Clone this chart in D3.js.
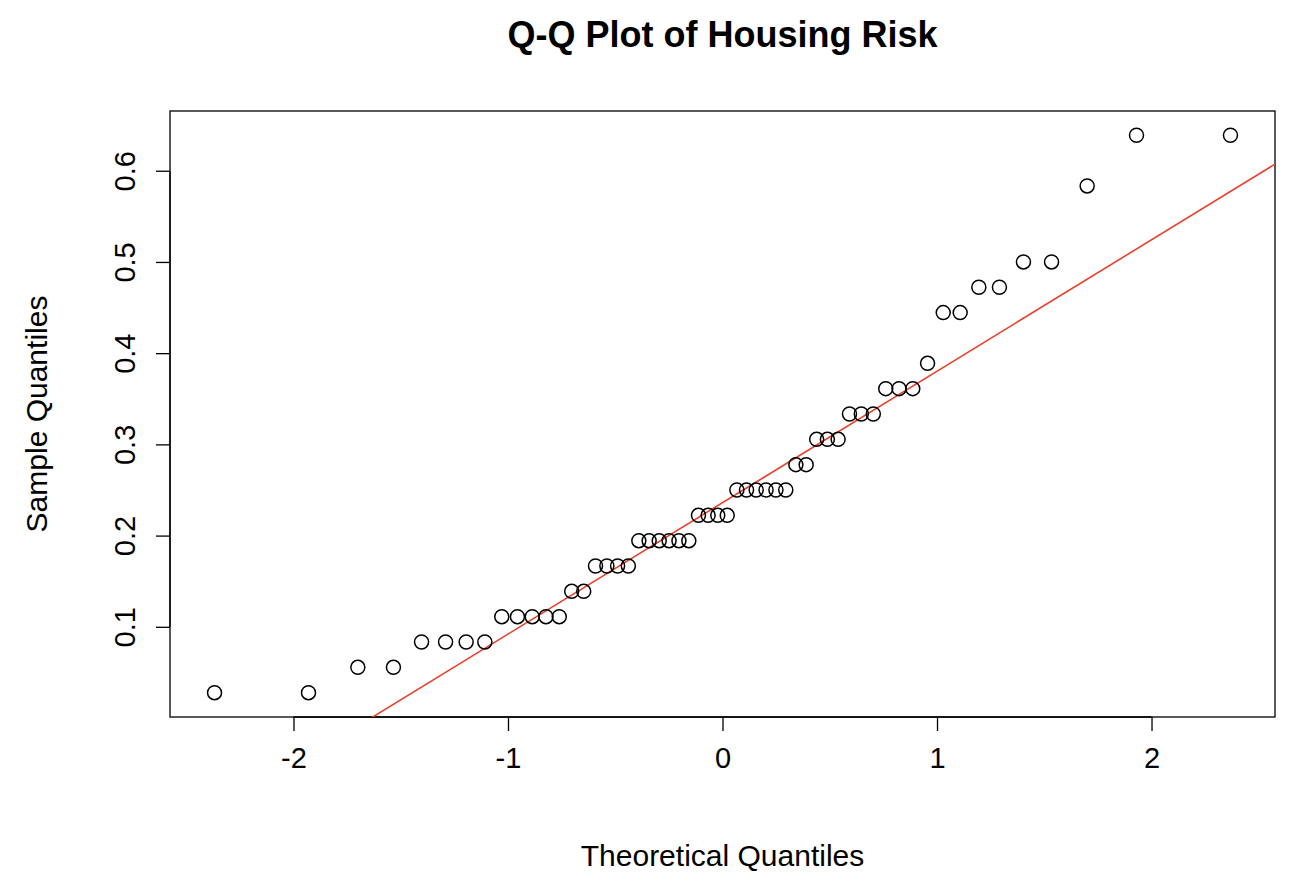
<!DOCTYPE html>
<html><head><meta charset="utf-8">
<script src="https://cdn.jsdelivr.net/npm/d3@7"></script>
<style>body{margin:0;background:#fff}svg{font-family:"Liberation Sans",Arial,sans-serif}</style>
</head><body><svg id="c" width="1292" height="874"></svg>
<script>
// Sample values (sorted), multiples of 1/36
const sampleCounts = [[1,2],[2,2],[3,4],[4,5],[5,2],[6,4],[7,6],[8,4],[9,6],[10,2],[11,3],[12,3],[13,3],[14,1],[16,2],[17,2],[18,2],[21,1],[23,2]];
// Theoretical quantiles (lower half; upper half symmetric)
const theoLower = [-2.368,-1.930,-1.700,-1.534,-1.403,-1.291,-1.195,-1.108,-1.029,-0.956,-0.887,-0.823,-0.761,-0.703,-0.647,-0.592,-0.539,-0.489,-0.439,-0.390,-0.342,-0.295,-0.249,-0.203,-0.157,-0.112,-0.067,-0.022];
const xTicks = [-2,-1,0,1,2];
const yTicks = [0.1,0.2,0.3,0.4,0.5,0.6];
const lineQuartiles = {x:[-0.6745,0.6745], y:[0.1389,0.3333]};

const sample = [];
sampleCounts.forEach(([k,c])=>{for(let i=0;i<c;i++)sample.push(k/36);});
const theo = theoLower.concat(theoLower.slice().reverse().map(v=>-v));
const pts = theo.map((t,i)=>({x:t,y:sample[i]}));

const svg = d3.select("#c");
const L=170,R=1275,T=111,B=717;
const x = d3.scaleLinear().domain([-2.557,2.557]).range([L+4,R-4]);
const y = d3.scaleLinear().domain([0.0033,0.6633]).range([B-2,T+2]);

svg.append("rect").attr("x",L).attr("y",T).attr("width",R-L).attr("height",B-T).attr("fill","none").attr("stroke","#000").attr("stroke-width",1.3);

const xa = svg.append("g").attr("transform",`translate(0,${B})`)
  .call(d3.axisBottom(x).tickValues(xTicks).tickFormat(d=>d).tickSizeOuter(0).tickSize(14).tickPadding(12));
xa.select(".domain").attr("d",`M${x(-2)},0H${x(2)}`);
const ya = svg.append("g").attr("transform",`translate(${L},0)`)
  .call(d3.axisLeft(y).tickValues(yTicks).tickFormat(d3.format(".1f")).tickSizeOuter(0).tickSize(14));
ya.select(".domain").attr("d",`M0,${y(0.1)}V${y(0.6)}`);
[xa,ya].forEach(g=>{g.selectAll("path,line").attr("stroke","#000").attr("stroke-width",1.3);
  g.selectAll("text").attr("font-size",29).attr("fill","#000");});
xa.selectAll("text").attr("dy","0.85em");
ya.selectAll("text").attr("x",0).attr("y",0).attr("dy","0").attr("text-anchor","middle")
  .attr("transform","translate(-35,0) rotate(-90)");

const slope=(lineQuartiles.y[1]-lineQuartiles.y[0])/(lineQuartiles.x[1]-lineQuartiles.x[0]);
const icpt=lineQuartiles.y[0]-slope*lineQuartiles.x[0];
svg.append("clipPath").attr("id","clip").append("rect").attr("x",L).attr("y",T).attr("width",R-L).attr("height",B-T);
const xs=x.domain();
svg.append("line").attr("clip-path","url(#clip)")
  .attr("x1",x(xs[0]-1)).attr("y1",y(icpt+slope*(xs[0]-1)))
  .attr("x2",x(xs[1]+1)).attr("y2",y(icpt+slope*(xs[1]+1)))
  .attr("stroke","#e8412c").attr("stroke-width",1.6);

svg.selectAll("circle").data(pts).join("circle").attr("cx",d=>x(d.x)).attr("cy",d=>y(d.y)).attr("r",7)
  .attr("fill","none").attr("stroke","#000").attr("stroke-width",1.5);

svg.append("text").attr("x",(L+R)/2).attr("y",47).attr("text-anchor","middle").attr("font-size",36).attr("font-weight","bold").text("Q-Q Plot of Housing Risk");
svg.append("text").attr("x",(L+R)/2).attr("y",866).attr("text-anchor","middle").attr("font-size",30).text("Theoretical Quantiles");
svg.append("text").attr("transform",`translate(47,${(T+B)/2}) rotate(-90)`).attr("text-anchor","middle").attr("font-size",30).text("Sample Quantiles");
</script></body></html>
